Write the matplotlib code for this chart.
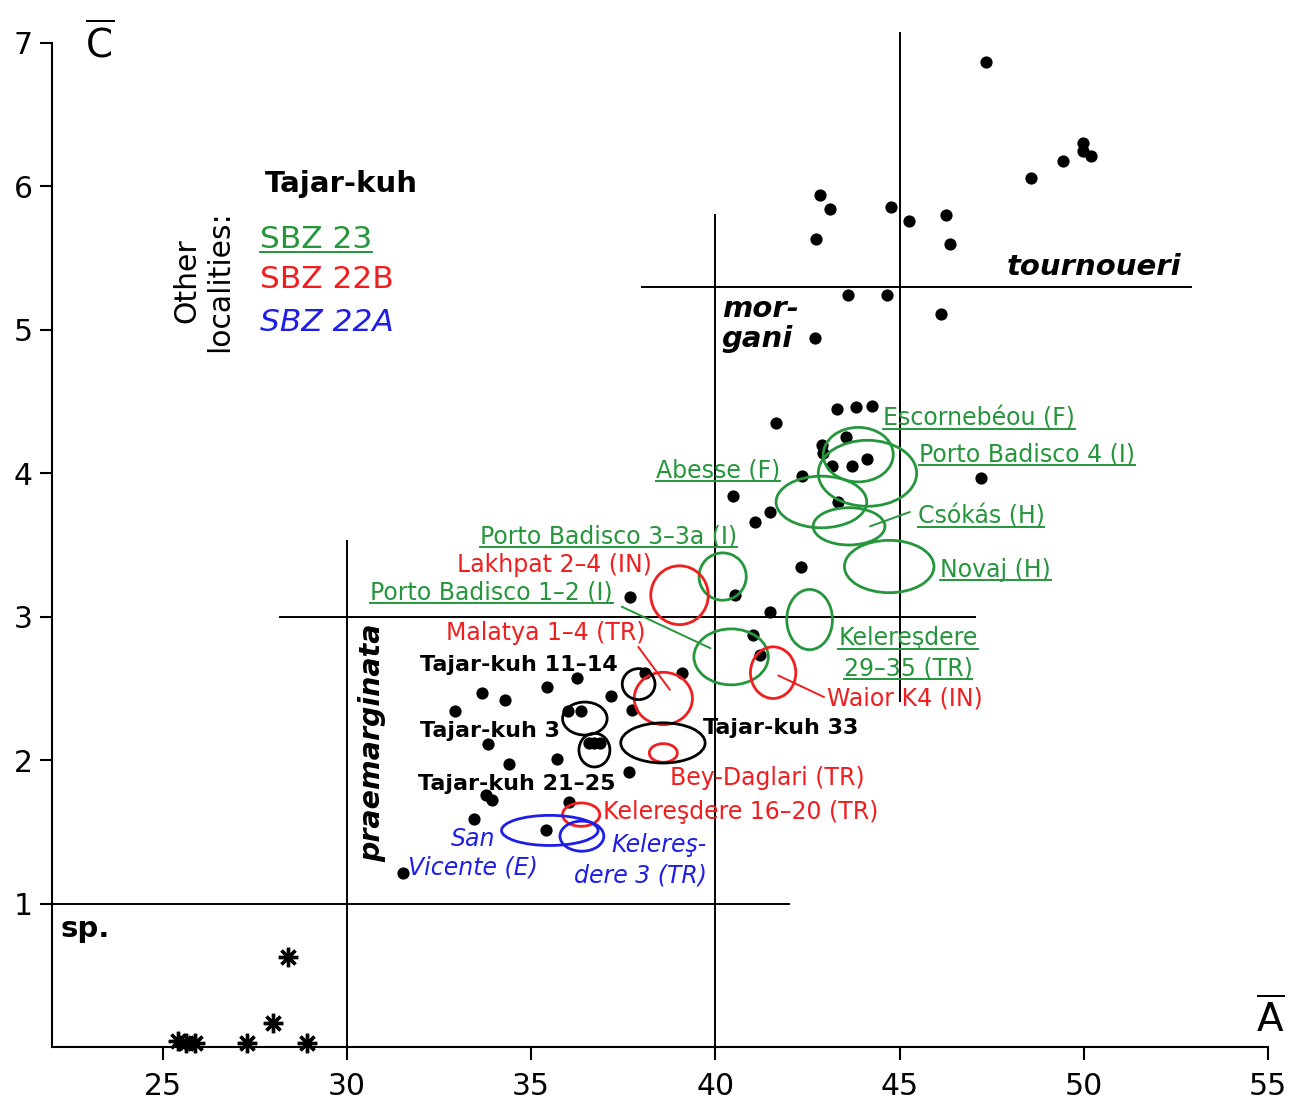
import matplotlib
matplotlib.use("Agg")
import matplotlib.pyplot as plt
from matplotlib.patches import Ellipse
from matplotlib.lines import Line2D

plt.rcParams['font.family'] = ['DejaVu Sans']
plt.rcParams['mathtext.fontset'] = 'dejavusans'

# ---------------- data ----------------
dot_A = [47.36, 49.99, 49.99, 50.21, 49.44, 48.57, 42.84, 43.11, 44.77, 45.26, 46.25, 46.37,
         42.73, 43.61, 44.65, 46.12, 42.71,
         43.31, 43.82, 44.24, 41.64, 43.55, 42.89, 42.91, 43.16, 43.72, 44.13, 42.36, 47.20,
         40.47, 43.32, 41.48, 41.08, 42.33, 40.53, 37.68, 41.48, 41.03, 41.21, 39.09, 38.09,
         36.24, 35.42, 33.66, 34.29, 37.16, 32.94, 36.01, 36.36, 37.73, 36.58, 36.72, 36.86,
         33.84, 35.70, 34.41, 37.67, 33.78, 33.93, 36.04, 33.45, 35.40, 31.52]
dot_C = [6.87, 6.30, 6.25, 6.21, 6.18, 6.06, 5.94, 5.84, 5.86, 5.76, 5.80, 5.60,
         5.63, 5.24, 5.24, 5.11, 4.94,
         4.45, 4.46, 4.47, 4.35, 4.25, 4.20, 4.14, 4.05, 4.05, 4.10, 3.98, 3.97,
         3.84, 3.80, 3.73, 3.66, 3.35, 3.15, 3.14, 3.03, 2.87, 2.73, 2.61, 2.61,
         2.57, 2.51, 2.47, 2.42, 2.45, 2.34, 2.34, 2.34, 2.35, 2.12, 2.12, 2.12,
         2.11, 2.01, 1.97, 1.92, 1.76, 1.72, 1.71, 1.59, 1.51, 1.21]

sp_A = [25.43, 25.65, 25.88, 27.28, 27.99, 28.41, 28.93]
sp_C = [0.04, 0.03, 0.03, 0.03, 0.17, 0.63, 0.03]

ell_name = ['Escornebéou', 'Porto Badisco 4', 'Abesse', 'Csókás', 'Novaj',
            'Kelereşdere 29–35', 'Porto Badisco 3–3a', 'Porto Badisco 1–2',
            'Lakhpat 2–4', 'Waior K4', 'Malatya 1–4', 'Bey-Daglari', 'Kelereşdere 16–20',
            'San Vicente', 'Kelereşdere 3',
            'Tajar-kuh 11–14', 'Tajar-kuh 3', 'Tajar-kuh 3b', 'Tajar-kuh 33']
ell_A = [43.88, 44.13, 42.88, 43.63, 44.72, 42.56, 40.20, 40.43,
         39.03, 41.57, 38.59, 38.59, 36.36,
         35.51, 36.38,
         37.92, 36.46, 36.72, 38.58]
ell_C = [4.13, 4.00, 3.80, 3.63, 3.35, 2.98, 3.28, 2.72,
         3.15, 2.61, 2.43, 2.05, 1.62,
         1.51, 1.47,
         2.53, 2.29, 2.07, 2.12]
ell_wA = [1.90, 2.67, 2.46, 1.95, 2.43, 1.24, 1.28, 2.02,
          1.56, 1.23, 1.58, 0.76, 1.01,
          2.62, 1.19,
          0.89, 1.21, 0.84, 2.29]
ell_hC = [0.38, 0.46, 0.36, 0.26, 0.365, 0.42, 0.33, 0.39,
          0.41, 0.36, 0.365, 0.13, 0.163,
          0.21, 0.21,
          0.216, 0.23, 0.235, 0.28]
ell_zone = ['SBZ 23'] * 8 + ['SBZ 22B'] * 5 + ['SBZ 22A'] * 2 + ['Tajar-kuh'] * 4

bound_h_C = [1.0, 3.0, 5.3]
bound_h_from = [22.0, 28.2, 38.0]
bound_h_to = [42.0, 47.05, 52.9]
bound_v_A = [30.0, 40.0, 45.0]
bound_v_from = [0.0, 0.0, 2.41]
bound_v_to = [3.53, 5.8, 7.07]

xticks = [25, 30, 35, 40, 45, 50, 55]
yticks = [1, 2, 3, 4, 5, 6, 7]

# ---------------- style ----------------
GREEN = '#25963c'
RED = '#f01e1e'
BLUE = '#1e1ee6'
zone_color = {'SBZ 23': GREEN, 'SBZ 22B': RED, 'SBZ 22A': BLUE, 'Tajar-kuh': 'black'}

fig = plt.figure(figsize=(12.97, 10.99), dpi=100)
ax = fig.add_axes([52 / 1297, 52 / 1099, 1216 / 1297, 1004 / 1099])
ax.set_xlim(22, 55)
ax.set_ylim(0, 7)
for s in ['top', 'right']:
    ax.spines[s].set_visible(False)
for s in ['left', 'bottom']:
    ax.spines[s].set_linewidth(1.5)
ax.set_xticks(xticks)
ax.set_yticks(yticks)
ax.tick_params(direction='out', length=9, width=1.5, labelsize=21.5, pad=5)
ax.tick_params(axis='x', pad=9)

# boundary lines
for c, a0, a1 in zip(bound_h_C, bound_h_from, bound_h_to):
    ax.plot([a0, a1], [c, c], color='black', lw=1.4, clip_on=False)
for a, c0, c1 in zip(bound_v_A, bound_v_from, bound_v_to):
    ax.plot([a, a], [c0, c1], color='black', lw=1.4, clip_on=False)

# dots
ax.plot(dot_A, dot_C, 'o', color='black', ms=8.8, mec='none', zorder=3)
ax.plot(sp_A, sp_C, marker=(8, 2, 0), ls='none', color='black', ms=14, mew=2.4,
        clip_on=False, zorder=3)

# ellipses
for x, y, w, h, z in zip(ell_A, ell_C, ell_wA, ell_hC, ell_zone):
    ax.add_patch(Ellipse((x, y), w, h, fill=False, edgecolor=zone_color[z], lw=2.0, zorder=4))

underlined = []


def lab(x, y, s, color='black', size=17, weight='normal', style='normal', ha='left',
        underline=False, **kw):
    t = ax.text(x, y, s, color=color, fontsize=size, fontweight=weight, fontstyle=style,
                ha=ha, va='baseline', clip_on=False, zorder=5, **kw)
    if underline:
        underlined.append(t)
    return t


# green labels
lab(44.56, 4.33, 'Escornebéou (F)', GREEN, underline=True)
lab(45.54, 4.08, 'Porto Badisco 4 (I)', GREEN, underline=True)
lab(38.39, 3.97, 'Abesse (F)', GREEN, underline=True)
lab(45.49, 3.65, 'Csókás (H)', GREEN, underline=True)
lab(46.10, 3.28, 'Novaj (H)', GREEN, underline=True)
lab(33.61, 3.51, 'Porto Badisco 3–3a (I)', GREEN, underline=True)
lab(30.63, 3.12, 'Porto Badisco 1–2 (I)', GREEN, underline=True)
lab(45.23, 2.80, 'Kelereşdere', GREEN, ha='center', underline=True)
lab(45.23, 2.59, '29–35 (TR)', GREEN, ha='center', underline=True)
# red labels
lab(32.98, 3.31, 'Lakhpat 2–4 (IN)', RED)
lab(32.69, 2.84, 'Malatya 1–4 (TR)', RED)
lab(43.02, 2.38, 'Waior K4 (IN)', RED)
lab(38.77, 1.83, 'Bey-Daglari (TR)', RED)
lab(36.94, 1.59, 'Kelereşdere 16–20 (TR)', RED)
# blue labels
lab(33.42, 1.40, 'San', BLUE, style='italic', ha='center')
lab(33.42, 1.20, 'Vicente (E)', BLUE, style='italic', ha='center')
lab(39.77, 1.36, 'Kelereş-', BLUE, style='italic', ha='right')
lab(39.77, 1.15, 'dere 3 (TR)', BLUE, style='italic', ha='right')
# black labels
lab(32.0, 2.62, 'Tajar-kuh 11–14', size=16, weight='bold')
lab(32.0, 2.16, 'Tajar-kuh 3', size=16, weight='bold')
lab(31.94, 1.79, 'Tajar-kuh 21–25', size=16, weight='bold')
lab(39.67, 2.18, 'Tajar-kuh 33', size=16, weight='bold')
# species fields
lab(52.66, 5.38, 'tournoueri', size=21, weight='bold', style='italic', ha='right')
lab(40.18, 5.09, 'mor-', size=21, weight='bold', style='italic')
lab(40.18, 4.88, 'gani', size=21, weight='bold', style='italic')
lab(22.22, 0.77, 'sp.', size=21, weight='bold')
ax.text(30.70, 2.12, 'praemarginata', rotation=90, ha='center', va='center', fontsize=20.5,
        fontweight='bold', fontstyle='italic', zorder=5)

# legend block
lab(27.78, 5.96, 'Tajar-kuh', size=21, weight='bold')
lab(27.64, 5.57, 'SBZ 23', GREEN, size=22.5, underline=True)
lab(27.64, 5.29, 'SBZ 22B', RED, size=22.5)
lab(27.64, 4.99, 'SBZ 22A', BLUE, size=22.5, style='italic')
ax.text(26.10, 5.34, 'Other\nlocalities:', rotation=90, ha='center', va='center',
        multialignment='center', fontsize=21.5, linespacing=1.15)

# leader lines
leaders = [((44.20, 3.63), (45.28, 3.73), GREEN),
           ((37.46, 3.07), (39.87, 2.78), GREEN),
           ((37.91, 2.79), (38.77, 2.49), RED),
           ((41.71, 2.59), (42.95, 2.44), RED)]
for p0, p1, col in leaders:
    ax.annotate('', xy=p1, xytext=p0,
                arrowprops=dict(arrowstyle='-', color=col, lw=1.4, shrinkA=0, shrinkB=0))

# axis letters
ax.text(23.3, 6.90, r'$\overline{\mathrm{C}}$', fontsize=28, ha='center', va='baseline',
        clip_on=False)
ax.text(55.05, 0.10, r'$\overline{\mathrm{A}}$', fontsize=28, ha='center', va='baseline',
        clip_on=False)

# underlines
fig.canvas.draw()
inv = fig.transFigure.inverted()
for t in underlined:
    bb = t.get_window_extent()
    xb, yb = ax.transData.transform(t.get_position())
    y_line = yb - 3.5
    p0 = inv.transform((bb.x0, y_line))
    p1 = inv.transform((bb.x1, y_line))
    fig.add_artist(Line2D([p0[0], p1[0]], [p0[1], p1[1]], color=t.get_color(), lw=1.4))

fig.savefig('out.png', dpi=100)
